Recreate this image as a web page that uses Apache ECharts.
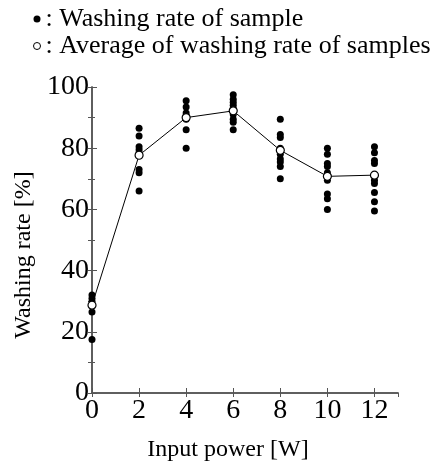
<!DOCTYPE html>
<html>
<head>
<meta charset="utf-8">
<script src="https://cdn.jsdelivr.net/npm/echarts@6/dist/echarts.min.js"></script>
<style>
  html, body { margin: 0; padding: 0; background: #fff; }
  #chart { width: 436px; height: 461px; }
</style>
</head>
<body>
<div id="chart"></div>
<script>
// input power [W]
var powers = [0, 2, 4, 6, 8, 10, 12];
// washing rate of each sample [%], one list per power
var samples = [
  [32, 31, 30, 26.5, 17.5],
  [86.5, 84, 80.5, 79.5, 78.5, 73, 72, 66],
  [95.5, 93.5, 91.5, 90.5, 89.5, 86, 80],
  [97.5, 96, 95, 94, 93, 91, 89.5, 88.5, 86],
  [89.5, 84.5, 83.5, 80, 78, 76.5, 75.5, 74, 70],
  [80, 78, 75, 74, 72, 69.5, 65, 63.5, 60],
  [80.5, 78.5, 76, 75, 69.5, 68.5, 65.5, 62.5, 59.5]
];
// average of samples [%]
var averages = [28.7, 77.7, 90, 92.2, 79.3, 70.8, 71.2];

var sampleName = ': Washing rate of sample';
var avgName = ': Average of washing rate of samples';

var samplePoints = [];
powers.forEach(function (p, i) {
  samples[i].forEach(function (v) { samplePoints.push([p, v]); });
});
var avgPoints = powers.map(function (p, i) { return [p, averages[i]]; });

var font = '"Liberation Serif", "Times New Roman", serif';
var axisColor = '#555';

var chart = echarts.init(document.getElementById('chart'));
var option = {
  animation: false,
  textStyle: { fontFamily: font, color: '#000' },
  legend: {
    orient: 'vertical',
    left: 28,
    top: 1,
    itemGap: 1,
    itemWidth: 7,
    itemHeight: 7,
    textStyle: { fontFamily: font, fontSize: 26, color: '#000' },
    data: [
      { name: sampleName, icon: 'circle', itemStyle: { color: '#000' } },
      { name: avgName, icon: 'circle', itemStyle: { color: '#fff', borderColor: '#000', borderWidth: 1 } }
    ]
  },
  grid: { left: 92, right: 38, top: 87, bottom: 68, outerBoundsMode: 'none' },
  xAxis: [{
    type: 'value',
    min: 0, max: 13, interval: 2,
    name: 'Input power [W]',
    nameLocation: 'middle',
    nameGap: 45,
    nameTextStyle: { fontFamily: font, fontSize: 24, color: '#000', padding: [0, 34, 0, 0] },
    axisLine: { lineStyle: { color: axisColor, width: 1.5 } },
    axisTick: { inside: true, length: 5, lineStyle: { color: axisColor } },
    axisLabel: { fontFamily: font, fontSize: 28, color: '#000', margin: 4, showMaxLabel: false },
    splitLine: { show: false }
  }, {
    type: 'value', position: 'top',
    min: 0, max: 13, interval: 2,
    axisLine: { show: true, lineStyle: { color: axisColor, width: 1.5 } },
    axisTick: { inside: true, length: 4, lineStyle: { color: axisColor } },
    axisLabel: { show: false },
    splitLine: { show: false }
  }],
  yAxis: [{
    type: 'value',
    min: 0, max: 100, interval: 20,
    name: 'Washing rate [%]',
    nameLocation: 'middle',
    nameGap: 52,
    nameTextStyle: { fontFamily: font, fontSize: 24, color: '#000', padding: [0, 30, 0, 0] },
    axisLine: { show: true, lineStyle: { color: axisColor, width: 1.5 } },
    axisTick: { inside: true, length: 5, lineStyle: { color: axisColor } },
    minorTick: { show: true, splitNumber: 2, length: 3, lineStyle: { color: axisColor } },
    axisLabel: { fontFamily: font, fontSize: 28, color: '#000', margin: 3 },
    splitLine: { show: false }
  }, {
    type: 'value', position: 'right',
    min: 0, max: 100, interval: 10,
    axisLine: { show: true, lineStyle: { color: axisColor, width: 1.5 } },
    axisTick: { inside: true, length: 4, lineStyle: { color: axisColor } },
    axisLabel: { show: false },
    splitLine: { show: false }
  }],
  series: [{
    name: sampleName,
    type: 'scatter',
    symbol: 'circle',
    symbolSize: 7,
    itemStyle: { color: '#000', opacity: 1 },
    data: samplePoints,
    z: 2
  }, {
    name: avgName,
    type: 'line',
    symbol: 'circle',
    symbolSize: 8,
    showAllSymbol: true,
    lineStyle: { color: '#000', width: 1 },
    itemStyle: { color: '#fff', borderColor: '#000', borderWidth: 1.2 },
    data: avgPoints,
    z: 3
  }]
};
chart.setOption(option);
</script>
</body>
</html>
